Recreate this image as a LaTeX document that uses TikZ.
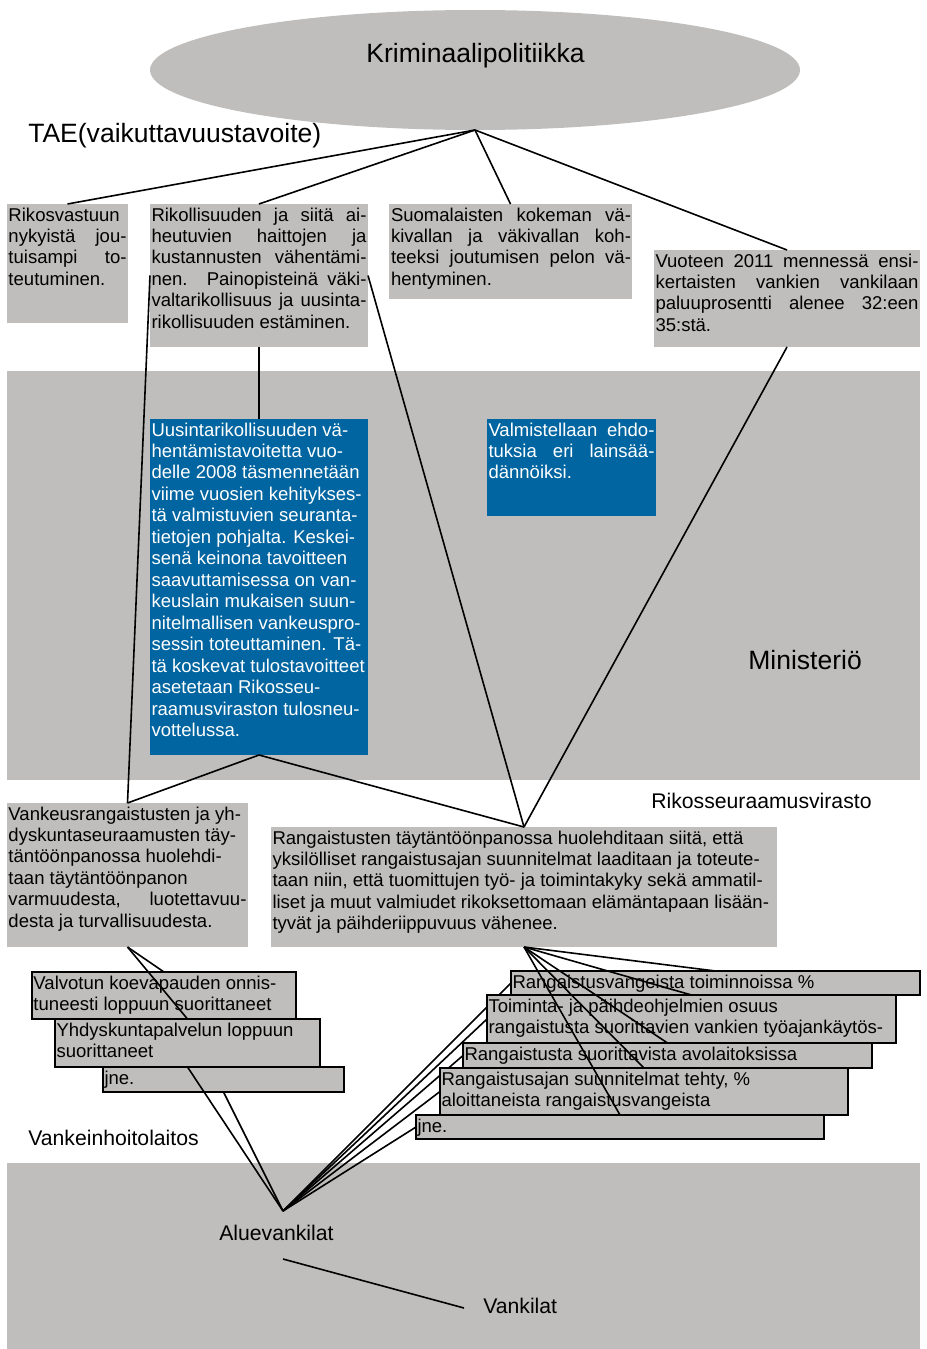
\documentclass[tikz,border=0pt]{standalone}
\usepackage{fontspec}
\setmainfont{Liberation Sans}
\usetikzlibrary{shapes.geometric}
\newlength{\pxu}\setlength{\pxu}{0.75pt}
\definecolor{gbg}{RGB}{191,190,189}
\definecolor{bbl}{RGB}{0,101,160}
\newcommand{\boxfont}{\fontsize{13.9pt}{16.1pt}\selectfont}
\newcommand{\lblfont}{\fontsize{15.9pt}{19pt}\selectfont}
\newcommand{\bigfont}{\fontsize{19.9pt}{23pt}\selectfont}
\newcommand{\jl}[2]{\makebox[#1\pxu][s]{#2}}
\tikzset{
 gb/.style={rectangle, fill=gbg, draw=none, inner sep=0pt, outer sep=0pt, anchor=north west},
 bb/.style={gb, fill=bbl},
 sb/.style={gb, draw=black, line width=1.5\pxu},
 tx/.style={anchor=north west, inner sep=0pt, outer sep=0pt, align=left, font=\boxfont},
 lbl/.style={anchor=base west, inner sep=0pt, font=\lblfont},
 big/.style={inner sep=0pt, font=\bigfont},
 conn/.style={draw=black, line width=1.6\pxu},
}
\begin{document}
\begin{tikzpicture}[x=0.75pt, y=-0.75pt]
\useasboundingbox (0,0) rectangle (926,1349);
% backgrounds
\node[gb, minimum width=913\pxu, minimum height=409\pxu] (min) at (7,371) {};
\node[gb, minimum width=913\pxu, minimum height=186\pxu] (vh) at (7,1163) {};
\node[ellipse, fill=gbg, inner sep=0pt, outer sep=0pt, minimum width=650\pxu, minimum height=120\pxu] (e) at (475,70) {};
% labels
\node[big, anchor=base] (kp) at (475.5,62.5) {Kriminaalipolitiikka};
\node[big, anchor=base west] (tae) at (28,142.5) {TAE(vaikuttavuustavoite)};
\node[big, anchor=base west] (mi) at (748,669.5) {Ministeriö};
\node[lbl] (rsv) at (651,808.5) {Rikosseuraamusvirasto};
\node[lbl] (vhl) at (28,1145.5) {Vankeinhoitolaitos};
\node[lbl] (alv) at (219,1240.5) {Aluevankilat};
\node[lbl] (vkl) at (483,1313.5) {Vankilat};
\coordinate (ava) at (283,1211);
\coordinate (avb) at (283,1259);
\coordinate (vka) at (464,1308);
\draw[conn] (avb) -- (vka);
% top boxes
\node[gb, minimum width=121\pxu, minimum height=119\pxu] (b1) at (7,204) {};
\node[gb, minimum width=218\pxu, minimum height=143\pxu] (b2) at (150,204) {};
\node[gb, minimum width=243\pxu, minimum height=95\pxu] (b3) at (389,204) {};
\node[gb, minimum width=266\pxu, minimum height=97\pxu] (b4) at (654,250) {};
\draw[conn] (e.south) -- (b1.north);
\draw[conn] (e.south) -- (b2.north);
\draw[conn] (e.south) -- (b3.north);
\draw[conn] (e.south) -- (b4.north);
\node[tx] (t1) at (8.5,206) {\strut Rikosvastuun\\ \jl{118}{nykyistä jou-}\\ \jl{118}{tuisampi to-}\\ teutuminen.};
\node[tx] (t2) at (151.5,206) {\strut\jl{215}{Rikollisuuden ja siitä ai-}\\ \jl{215}{heutuvien haittojen ja}\\ \jl{215}{kustannusten vähentämi-}\\ \jl{215}{nen. Painopisteinä väki-}\\ \jl{215}{valtarikollisuus ja uusinta-}\\ rikollisuuden estäminen.};
\node[tx] (t3) at (391,206) {\strut\jl{240}{Suomalaisten kokeman vä-}\\ \jl{240}{kivallan ja väkivallan koh-}\\ \jl{240}{teeksi joutumisen pelon vä-}\\ hentyminen.};
\node[tx] (t4) at (655.5,252) {\strut\jl{263}{Vuoteen 2011 mennessä ensi-}\\ \jl{263}{kertaisten vankien vankilaan}\\ \jl{263}{paluuprosentti alenee 32:een}\\ 35:stä.};
% middle
\node[bb, minimum width=218\pxu, minimum height=336\pxu] (u1) at (150,419) {};
\node[bb, minimum width=169\pxu, minimum height=97\pxu] (u2) at (487,419) {};
\node[gb, minimum width=241\pxu, minimum height=144\pxu] (lb) at (7,803) {};
\node[gb, minimum width=506\pxu, minimum height=120\pxu] (rb) at (271,827) {};
\draw[conn] (b2.south) -- (u1.north);
\draw[conn] (b2.west) -- (lb.north);
\draw[conn] (b2.east) -- (rb.north);
\draw[conn] (b4.south) -- (rb.north);
\draw[conn] (u1.south) -- (lb.north);
\draw[conn] (u1.south) -- (rb.north);
\node[tx, text=white] (tu1) at (151.5,421) {\strut Uusintarikollisuuden vä-\\ hentämistavoitetta vuo-\\ delle 2008 täsmennetään\\ viime vuosien kehitykses-\\ tä valmistuvien seuranta-\\ tietojen pohjalta. Keskei-\\ senä keinona tavoitteen\\ saavuttamisessa on van-\\ keuslain mukaisen suun-\\ nitelmallisen vankeuspro-\\ sessin toteuttaminen. Tä-\\ tä koskevat tulostavoitteet\\ asetetaan Rikosseu-\\ raamusviraston tulosneu-\\ vottelussa.};
\node[tx, text=white] (tu2) at (488.5,421) {\strut\jl{166}{Valmistellaan ehdo-}\\ \jl{166}{tuksia eri lainsää-}\\ dännöiksi.};
\node[tx] (tlb) at (8.5,805) {\strut Vankeusrangaistusten ja yh-\\ dyskuntaseuraamusten täy-\\ täntöönpanossa huolehdi-\\ taan täytäntöönpanon\\ \jl{238}{varmuudesta, luotettavuu-}\\ desta ja turvallisuudesta.};
\node[tx] (trb) at (272.5,829) {\strut Rangaistusten täytäntöönpanossa huolehditaan siitä, että\\ yksilölliset rangaistusajan suunnitelmat laaditaan ja toteute-\\ taan niin, että tuomittujen työ- ja toimintakyky sekä ammatil-\\ liset ja muut valmiudet rikoksettomaan elämäntapaan lisään-\\ tyvät ja päihderiippuvuus vähenee.};
% left small boxes
\node[sb, minimum width=264\pxu, minimum height=47\pxu] (l1) at (32,972) {};
\draw[conn] (lb.south) -- (l1.north);
\node[tx] (tl1) at (33.5,974) {\strut Valvotun koevapauden onnis-\\ tuneesti loppuun suorittaneet};
\coordinate (l2n) at (187.5,1019);
\draw[conn] (lb.south) -- (l2n);
\node[sb, minimum width=265\pxu, minimum height=48\pxu] (l2) at (55,1019) {};
\node[tx] (tl2) at (56.5,1021) {\strut Yhdyskuntapalvelun loppuun\\ suorittaneet};
\node[sb, minimum width=241\pxu, minimum height=25\pxu] (l3) at (103,1067) {};
\node[tx] (tl3) at (104.5,1069) {\strut jne.};
\draw[conn] (ava) -- (l2.south);
\draw[conn] (ava) -- (l3.south);
% right small boxes
\coordinate (r2n) at (691.5,995);
\coordinate (r2w) at (487,1019);
\coordinate (r3n) at (667.5,1043);
\coordinate (r3w) at (463,1055.5);
\coordinate (r4n) at (644,1068);
\coordinate (r4w) at (440,1091.5);
\coordinate (r5n) at (620,1115);
\coordinate (r5w) at (416,1127);
\coordinate (r1n) at (715.5,971);
\coordinate (r1w) at (511,983);
\draw[conn] (rb.south) -- (r1n);
\draw[conn] (ava) -- (r1w);
\node[sb, minimum width=409\pxu, minimum height=24\pxu] (r1) at (511,971) {};
\node[tx] (tr1) at (512.5,973) {\strut Rangaistusvangeista toiminnoissa \%};
\draw[conn] (rb.south) -- (r2n);
\draw[conn] (ava) -- (r2w);
\node[sb, minimum width=409\pxu, minimum height=48\pxu] (r2) at (487,995) {};
\node[tx] (tr2) at (488.5,997) {\strut Toiminta- ja päihdeohjelmien osuus\\ rangaistusta suorittavien vankien työajankäytös-};
\draw[conn] (rb.south) -- (r3n);
\draw[conn] (ava) -- (r3w);
\node[sb, minimum width=409\pxu, minimum height=25\pxu] (r3) at (463,1043) {};
\node[tx] (tr3) at (464.5,1045) {\strut Rangaistusta suorittavista avolaitoksissa};
\draw[conn] (rb.south) -- (r4n);
\draw[conn] (ava) -- (r4w);
\node[sb, minimum width=408\pxu, minimum height=47\pxu] (r4) at (440,1068) {};
\node[tx] (tr4) at (441.5,1070) {\strut Rangaistusajan suunnitelmat tehty, \%\\ aloittaneista rangaistusvangeista};
\draw[conn] (rb.south) -- (r5n);
\draw[conn] (ava) -- (r5w);
\node[sb, minimum width=408\pxu, minimum height=24\pxu] (r5) at (416,1115) {};
\node[tx] (tr5) at (417.5,1117) {\strut jne.};
\end{tikzpicture}
\end{document}
